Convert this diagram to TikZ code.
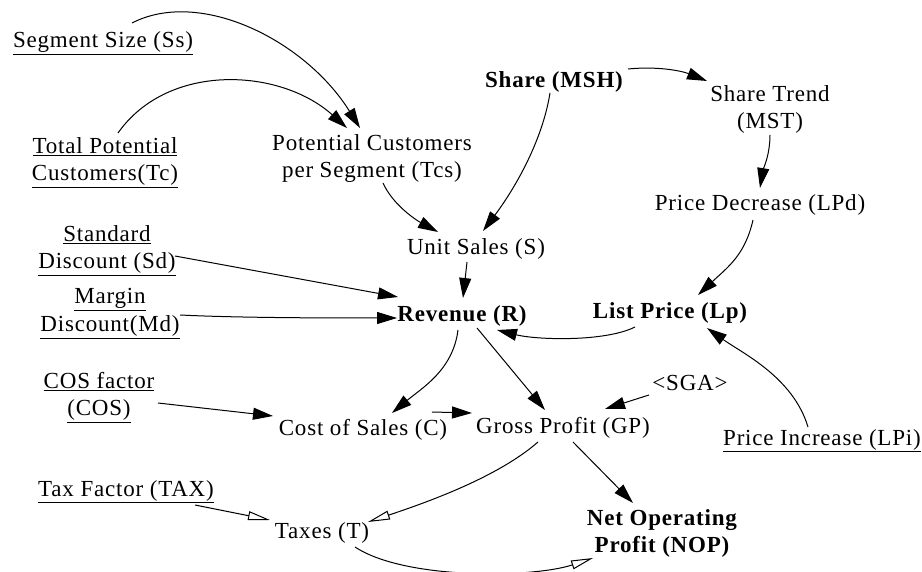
\documentclass[tikz,border=0pt]{standalone}
\usepackage{fontspec}
\setmainfont{Liberation Serif}[LetterSpace=3.5]
\usetikzlibrary{arrows.meta}
\newcommand{\fs}{\fontsize{23}{27.5}\selectfont}
\begin{document}
\begin{tikzpicture}[x=1pt,y=-1pt,
  lbl/.style={font=\fs, align=center, inner sep=0pt},
  bl/.style={font=\fs\bfseries, align=center, inner sep=0pt},
  arr/.style={-{Triangle[length=20pt,width=12pt]}, line width=1pt},
  oarr/.style={-{Triangle[open,length=22pt,width=9pt]}, line width=1pt}]
\useasboundingbox[fill=white] (0,0) rectangle (922,572);
% nodes
\node[lbl] (Ss)  at (103,43.5)  {\underline{Segment Size (Ss)}};
\node[lbl] (Tc)  at (105,162.5) {\underline{Total Potential}\\\underline{Customers(Tc)}};
\node[lbl] (Tcs) at (372,158.5) {Potential Customers\\per Segment (Tcs)};
\node[bl]  (MSH) at (554,81.5)  {Share (MSH)};
\node[lbl] (MST) at (770,109.5) {Share Trend\\(MST)};
\node[lbl] (LPd) at (760,204.5) {Price Decrease (LPd)};
\node[lbl] (S)   at (476,248.5) {Unit Sales (S)};
\node[lbl] (Sd)  at (107,250.5) {\underline{Standard}\\\underline{Discount (Sd)}};
\node[lbl] (Md)  at (110,313.5) {\underline{Margin}\\\underline{Discount(Md)}};
\node[bl]  (R)   at (462,315.5) {Revenue (R)};
\node[bl]  (Lp)  at (670,312.5) {List Price (Lp)};
\node[lbl] (COS) at (99,397.5)  {\underline{COS factor}\\\underline{(COS)}};
\node[lbl] (SGA) at (690,382.5) {<SGA>};
\node[lbl] (C)   at (363,429.5) {Cost of Sales (C)};
\node[lbl] (GP)  at (563,427.5) {Gross Profit (GP)};
\node[lbl] (LPi) at (822,440.5) {\underline{Price Increase (LPi)}};
\node[lbl] (TAX) at (126,491.5) {\underline{Tax Factor (TAX)}};
\node[lbl] (T)   at (322,532.5) {Taxes (T)};
\node[bl]  (NOP) at (662,533.5) {Net Operating\\Profit (NOP)};
% connectors
\draw[arr] ([shift={(29,-20.5)}]Ss.center) .. controls +(68,-35) and +(-55,-88) .. ([shift={(-12,-30.5)}]Tcs.center);
\draw[arr] ([shift={(13,-29.5)}]Tc.center) .. controls +(50,-71) and +(-67,-60) .. ([shift={(-25,-30.5)}]Tcs.center);
\draw[arr] ([shift={(11,24.5)}]Tcs.center) .. controls +(10,22) and +(-22,-12) .. ([shift={(-38,-16.5)}]S.center);
\draw[arr] ([shift={(-4,11.5)}]MSH.center) .. controls +(-8,50) and +(30,-40) .. ([shift={(7,-17.5)}]S.center);
\draw[arr] ([shift={(74,-12.5)}]MSH.center) .. controls +(30,-3) and +(-25,-10) .. ([shift={(-63,-28.5)}]MST.center);
\draw[arr] ([shift={(0,25.5)}]MST.center) .. controls +(0,20) and +(3,-18) .. ([shift={(0,-16.5)}]LPd.center);
\draw[arr] ([shift={(-7,15.5)}]LPd.center) .. controls +(-8,35) and +(30,-28) .. ([shift={(28,-17.5)}]Lp.center);
\draw[arr] ([shift={(-9,13.5)}]S.center) -- ([shift={(1,-17.5)}]R.center);
\draw[arr] ([shift={(68,5.5)}]Sd.center) -- ([shift={(-64,-18.5)}]R.center);
\draw[arr] ([shift={(70,1.5)}]Md.center) .. controls +(60,3) and +(-60,0) .. ([shift={(-65,2.5)}]R.center);
\draw[arr] ([shift={(-35,14.5)}]Lp.center) .. controls +(-30,15) and +(40,10) .. ([shift={(35,14.5)}]R.center);
\draw[arr] ([shift={(-4,14.5)}]R.center) .. controls +(-5,40) and +(30,-25) .. ([shift={(29,-16.5)}]C.center);
\draw[arr] ([shift={(15,12.5)}]R.center) -- ([shift={(-18,-17.5)}]GP.center);
\draw[arr] ([shift={(-14,-13.5)}]LPi.center) .. controls +(-15,-50) and +(35,25) .. ([shift={(37,15.5)}]Lp.center);
\draw[arr] ([shift={(-41,12.5)}]SGA.center) -- ([shift={(42,-18.5)}]GP.center);
\draw[arr] ([shift={(59,5.5)}]COS.center) -- ([shift={(-90,-13.5)}]C.center);
\draw[arr] ([shift={(69,-17.5)}]C.center) -- ([shift={(-91,-14.5)}]GP.center);
\draw[arr] ([shift={(10,14.5)}]GP.center) -- ([shift={(-29,-30.5)}]NOP.center);
\draw[oarr] ([shift={(69,13.5)}]TAX.center) -- ([shift={(-52,-12.5)}]T.center);
\draw[oarr] ([shift={(-25,14.5)}]GP.center) .. controls +(-40,35) and +(60,-20) .. ([shift={(46,-10.5)}]T.center);
\draw[oarr] ([shift={(33,14.5)}]T.center) .. controls +(50,33) and +(-60,20) .. ([shift={(-69,24.5)}]NOP.center);
\end{tikzpicture}
\end{document}
